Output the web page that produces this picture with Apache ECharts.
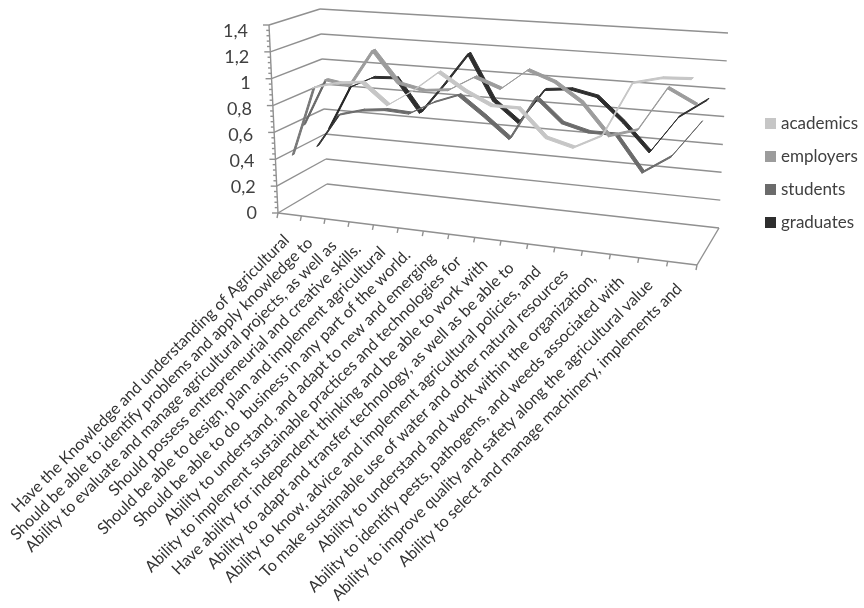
<!DOCTYPE html>
<html>
<head>
<meta charset="utf-8">
<style>
  html, body { margin: 0; padding: 0; background: #fff; }
  #chart { width: 864px; height: 608px; }
</style>
<script src="https://cdn.jsdelivr.net/npm/echarts@6/dist/echarts.min.js"></script>
</head>
<body>
<div id="chart"></div>
<script>
var categories = [
  'Have the Knowledge and understanding of Agricultural',
  'Should be able to identify problems and apply knowledge to',
  'Ability to evaluate and manage agricultural projects, as well as',
  'Should possess entrepreneurial and creative skills.',
  'Should be able to design, plan and implement agricultural',
  'Should be able to do  business in any part of the world.',
  'Ability to understand, and adapt to new and emerging',
  'Ability to implement sustainable practices and technologies for',
  'Have ability for independent thinking and be able to work with',
  'Ability to adapt and transfer technology, as well as be able to',
  'Ability to know, advice and implement agricultural policies, and',
  'To make sustainable use of water and other natural resources',
  'Ability to understand and work within the organization,',
  'Ability to identify pests, pathogens, and weeds associated with',
  'Ability to improve quality and safety along the agricultural value',
  'Ability to select and manage machinery, implements and'
]
var academics = [0.42, 0.94, 0.99, 1.01, 0.86, 0.98, 1.13, 1.01, 0.92, 0.92, 0.73, 0.68, 0.78, 1.16, 1.21, 1.22]
var employers = [0.60, 0.96, 0.93, 1.21, 0.98, 0.94, 0.96, 1.07, 1.00, 1.15, 1.08, 0.95, 0.73, 0.79, 1.10, 1.00]
var students = [0.39, 0.65, 0.70, 0.72, 0.71, 0.81, 0.88, 0.74, 0.59, 0.91, 0.74, 0.69, 0.69, 0.44, 0.57, 0.83]
var graduates = [0.48, 0.82, 0.91, 0.92, 0.67, 0.90, 1.15, 0.81, 0.66, 0.92, 0.94, 0.90, 0.73, 0.53, 0.80, 0.94]
var yTicks = [0, 0.2, 0.4, 0.6, 0.8, 1, 1.2, 1.4]
var yLabels = ['0', '0,2', '0,4', '0,6', '0,8', '1', '1,2', '1,4']

var FONT = 'Lato, "Open Sans", sans-serif'
var FRAME = '#909090'
var grid = { left: 278, top: 25, width: 419, height: 188 }

// corners of the 3d box: [bottom, top] of each vertical edge
var FL = [[278, 213], [269, 25]]
var BL = [[327, 184], [320, 9]]
var FR = [[697, 265], [706, 56]]
var BR = [[719, 228], [728, 33]]

function mix (a, b, k) {
  return a + (b - a) * k
}
// perspective along the category direction
function warp (t) {
  return t / (t + 1.13 * (1 - t))
}
// t along the categories 0-1, d into the depth 0-1, h up the wall 0-1
function project (t, d, h) {
  var w = warp(t)
  var p = []
  for (var n = 0; n < 2; n++) {
    var front = mix(mix(FL[0][n], FR[0][n], w), mix(FL[1][n], FR[1][n], w), h)
    var back = mix(mix(BL[0][n], BR[0][n], w), mix(BL[1][n], BR[1][n], w), h)
    p.push(mix(front, back, d))
  }
  return p
}
// from the axis scales to the box
function fromAxis (api, i, v, d) {
  var c = api.coord([i, v])
  return project((c[0] - grid.left) / grid.width, d, (grid.top + grid.height - c[1]) / grid.height)
}

// the first rise of each ribbon shows its narrow dark side
function ribbon (values, depth, color, sideColor) {
  return function (params, api) {
    var i = api.value(0)
    if (i >= values.length - 1) return null
    var a = values[i]
    var b = values[i + 1]
    var half = i === 0 ? 0.02 : 0.042
    var fill = i === 0 ? sideColor : color
    return {
      type: 'polygon',
      shape: {
        points: [
          fromAxis(api, i, a, depth - half),
          fromAxis(api, i + 1, b, depth - half),
          fromAxis(api, i + 1, b, depth + half),
          fromAxis(api, i, a, depth + half)
        ]
      },
      style: { fill: fill, stroke: fill, lineWidth: 1 }
    }
  }
}

function lineSeries (name, values, depth, color, sideColor) {
  return {
    name: name,
    type: 'custom',
    coordinateSystem: 'cartesian2d',
    itemStyle: { color: color },
    encode: { x: 0, y: 1 },
    data: values.map(function (v, i) { return [i, v] }),
    renderItem: ribbon(values, depth, color, sideColor)
  }
}

function seg (a, b) {
  return {
    type: 'line',
    shape: { x1: a[0], y1: a[1], x2: b[0], y2: b[1] },
    style: { stroke: FRAME, lineWidth: 1.4, fill: null }
  }
}

// walls, floor and tick labels of the value axis
function renderWalls (params, api) {
  var v = api.value(1)
  var h = v / 1.4
  var at = project(0, 0, h)
  var kids = [
    seg(at, project(0, 1, h)),
    seg(project(0, 1, h), project(1, 1, h)),
    seg(at, [at[0] - 6, at[1]])
  ]
  for (var m = 1; m < 5 && v < 1.4; m++) {
    var q = project(0, 0, (v + m * 0.04) / 1.4)
    kids.push(seg(q, [q[0] - 3, q[1]]))
  }
  if (v === 0) {
    kids.push(seg(project(0, 0, 0), project(0, 0, 1)))
    kids.push(seg(project(0, 0, 0), project(1, 0, 0)))
    kids.push(seg(project(1, 0, 0), project(1, 1, 0)))
  }
  kids.push({
    type: 'text',
    x: at[0] - 21,
    y: at[1] + mix(0, 6, h),
    style: {
      text: yLabels[params.dataIndex],
      textAlign: 'right',
      textVerticalAlign: 'middle',
      font: '18px ' + FONT,
      fill: '#404040'
    }
  })
  return { type: 'group', children: kids }
}

// category ticks and the slanted labels below the front edge
function renderCategory (params, api) {
  var i = api.value(0)
  var kids = []
  var tick = project(i / categories.length, 0, 0)
  kids.push(seg(tick, [tick[0] - 1, tick[1] + 5]))
  if (i === categories.length - 1) {
    var last = project(1, 0, 0)
    kids.push(seg(last, [last[0] - 1, last[1] + 5]))
  }
  var c = project((i + 0.5) / categories.length, 0, 0)
  kids.push({
    type: 'text',
    x: c[0] - 3,
    y: c[1] + 23,
    rotation: Math.PI / 4,
    style: {
      text: categories[i],
      textAlign: 'right',
      textVerticalAlign: 'middle',
      font: '16px ' + FONT,
      fill: '#333'
    }
  })
  return { type: 'group', children: kids }
}

var myChart = echarts.init(document.getElementById('chart'), null, { renderer: 'canvas' })
var option = {
  animation: false,
  backgroundColor: '#fff',
  grid: grid,
  xAxis: { type: 'category', data: categories, show: false },
  yAxis: { type: 'value', min: 0, max: 1.4, interval: 0.2, show: false },
  legend: {
    orient: 'vertical',
    left: 760,
    top: 110,
    itemWidth: 11,
    itemHeight: 11,
    itemGap: 16,
    icon: 'rect',
    data: ['academics', 'employers', 'students', 'graduates'],
    textStyle: { fontFamily: FONT, fontSize: 17, color: '#404040' }
  },
  series: [
    {
      type: 'custom',
      coordinateSystem: 'cartesian2d',
      z: 1,
      encode: { x: 0, y: 1 },
      data: yTicks.map(function (v) { return [0, v] }),
      renderItem: renderWalls
    },
    {
      type: 'custom',
      coordinateSystem: 'cartesian2d',
      z: 1,
      encode: { x: 0, y: 1 },
      data: categories.map(function (c, i) { return [i, 0] }),
      renderItem: renderCategory
    },
    lineSeries('graduates', graduates, 0.875, '#2e2e2e', '#222'),
    lineSeries('students', students, 0.625, '#6b6b6b', '#333'),
    lineSeries('employers', employers, 0.375, '#9c9c9c', '#666'),
    lineSeries('academics', academics, 0.125, '#c6c6c6', '#777')
  ]
}
myChart.setOption(option, true)
</script>
</body>
</html>
